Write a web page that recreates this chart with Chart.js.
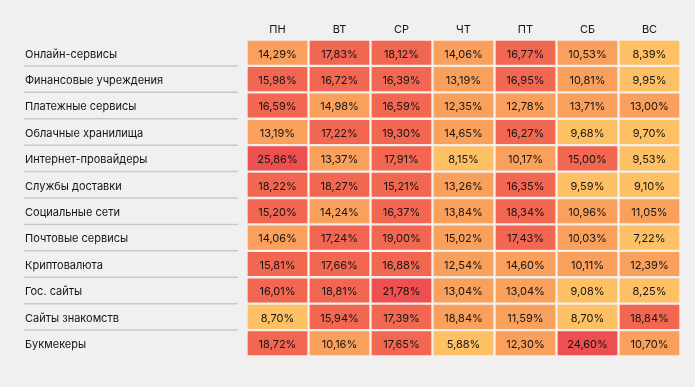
<!DOCTYPE html>
<html>
<head>
<meta charset="utf-8">
<script src="https://cdn.jsdelivr.net/npm/chart.js@4"></script>
<style>
  html, body { margin: 0; padding: 0; background: #f0f0f0; }
  #wrap { width: 695px; height: 387px; position: relative; }
</style>
</head>
<body>
<div id="wrap"><canvas id="heat"></canvas></div>
<script>
// rows of the table
const services = [
  'Онлайн-сервисы', 'Финансовые учреждения', 'Платежные сервисы', 'Облачные хранилища',
  'Интернет-провайдеры', 'Службы доставки', 'Социальные сети', 'Почтовые сервисы',
  'Криптовалюта', 'Гос. сайты', 'Сайты знакомств', 'Букмекеры'
]
const days = ['ПН', 'ВТ', 'СР', 'ЧТ', 'ПТ', 'СБ', 'ВС']

// share per weekday, %, same order as services
const mon = [14.29, 15.98, 16.59, 13.19, 25.86, 18.22, 15.20, 14.06, 15.81, 16.01, 8.70, 18.72]
const tue = [17.83, 16.72, 14.98, 17.22, 13.37, 18.27, 14.24, 17.24, 17.66, 18.81, 15.94, 10.16]
const wed = [18.12, 16.39, 16.59, 19.30, 17.91, 15.21, 16.37, 19.00, 16.88, 21.78, 17.39, 17.65]
const thu = [14.06, 13.19, 12.35, 14.65, 8.15, 13.26, 13.84, 15.02, 12.54, 13.04, 18.84, 5.88]
const fri = [16.77, 16.95, 12.78, 16.27, 10.17, 16.35, 18.34, 17.43, 14.60, 13.04, 11.59, 12.30]
const sat = [10.53, 10.81, 13.71, 9.68, 15.00, 9.59, 10.96, 10.03, 10.11, 9.08, 8.70, 24.60]
const sun = [8.39, 9.95, 13.00, 9.70, 9.53, 9.10, 11.05, 7.22, 12.39, 8.25, 18.84, 10.70]
const series = [mon, tue, wed, thu, fri, sat, sun]

// colour class of each cell as seen in the picture (Y low, O mid, R high, D top)
const levels = [
  'ORRODRRORRYR',
  'RRORORORRRRO',
  'RRRRRRRRRDRR',
  'OOOOYOOOOOOY',
  'RRORORRROOOO',
  'OOOYRYOOOYYD',
  'YYOYYYOYOYRO'
]

const palette = { Y: '#fec064', O: '#f9a05c', R: '#f26752', D: '#ee4f50' }
const FONT = 'Inter, "Noto Sans", sans-serif'
const INK = '#141414'

const fmt = v => v.toFixed(2).replace('.', ',') + '%'

const datasets = days.map((d, j) => ({
  label: d,
  data: services.map(() => [j, j + 1]),
  values: series[j],
  backgroundColor: levels[j].split('').map(k => palette[k]),
  borderColor: '#f6efec',
  borderWidth: 1.5,
  borderSkipped: false,
  barPercentage: 1,
  categoryPercentage: 1,
  grouped: false
}))

// value text inside every cell
const cellLabels = {
  id: 'cellLabels',
  afterDatasetsDraw(chart) {
    const ctx = chart.ctx
    ctx.save()
    ctx.font = '11px ' + FONT
    ctx.fillStyle = INK
    ctx.textAlign = 'center'
    ctx.textBaseline = 'middle'
    chart.data.datasets.forEach((ds, j) => {
      chart.getDatasetMeta(j).data.forEach((el, i) => {
        const p = el.getCenterPoint()
        ctx.fillText(fmt(ds.values[i]), p.x, p.y + 1.5)
      })
    })
    ctx.restore()
  }
}

// thin rules between row names
const rowRules = {
  id: 'rowRules',
  afterDraw(chart) {
    const y = chart.scales.y
    const ctx = chart.ctx
    ctx.save()
    ctx.strokeStyle = '#c9c9c9'
    ctx.lineWidth = 1.5
    for (let i = 0; i < services.length - 1; i++) {
      const py = (y.getPixelForValue(i) + y.getPixelForValue(i + 1)) / 2
      ctx.beginPath()
      ctx.moveTo(24, py)
      ctx.lineTo(238, py)
      ctx.stroke()
    }
    ctx.restore()
  }
}

new Chart(document.getElementById('heat'), {
  type: 'bar',
  data: { labels: services, datasets },
  plugins: [cellLabels, rowRules],
  options: {
    indexAxis: 'y',
    responsive: true,
    maintainAspectRatio: false,
    animation: false,
    layout: { padding: { left: 25, right: 14.5, top: 0, bottom: 30.5 } },
    plugins: { legend: { display: false }, tooltip: { enabled: false } },
    scales: {
      x: {
        type: 'linear',
        position: 'top',
        min: 0,
        max: days.length,
        grid: { display: false, drawTicks: false },
        border: { display: false },
        afterBuildTicks: s => { s.ticks = days.map((d, j) => ({ value: j + 0.5 })) },
        afterFit: s => { s.height = 39.5 },
        ticks: {
          autoSkip: false,
          maxRotation: 0,
          padding: 3,
          color: INK,
          font: { family: FONT, size: 11 },
          callback: (v, i) => days[i]
        }
      },
      y: {
        type: 'category',
        grid: { display: false, drawTicks: false },
        border: { display: false },
        afterFit: s => { s.width = 221.5 },
        ticks: {
          crossAlign: 'far',
          labelOffset: 1.5,
          color: INK,
          font: { family: FONT, size: 11 }
        }
      }
    }
  }
})
</script>
</body>
</html>
